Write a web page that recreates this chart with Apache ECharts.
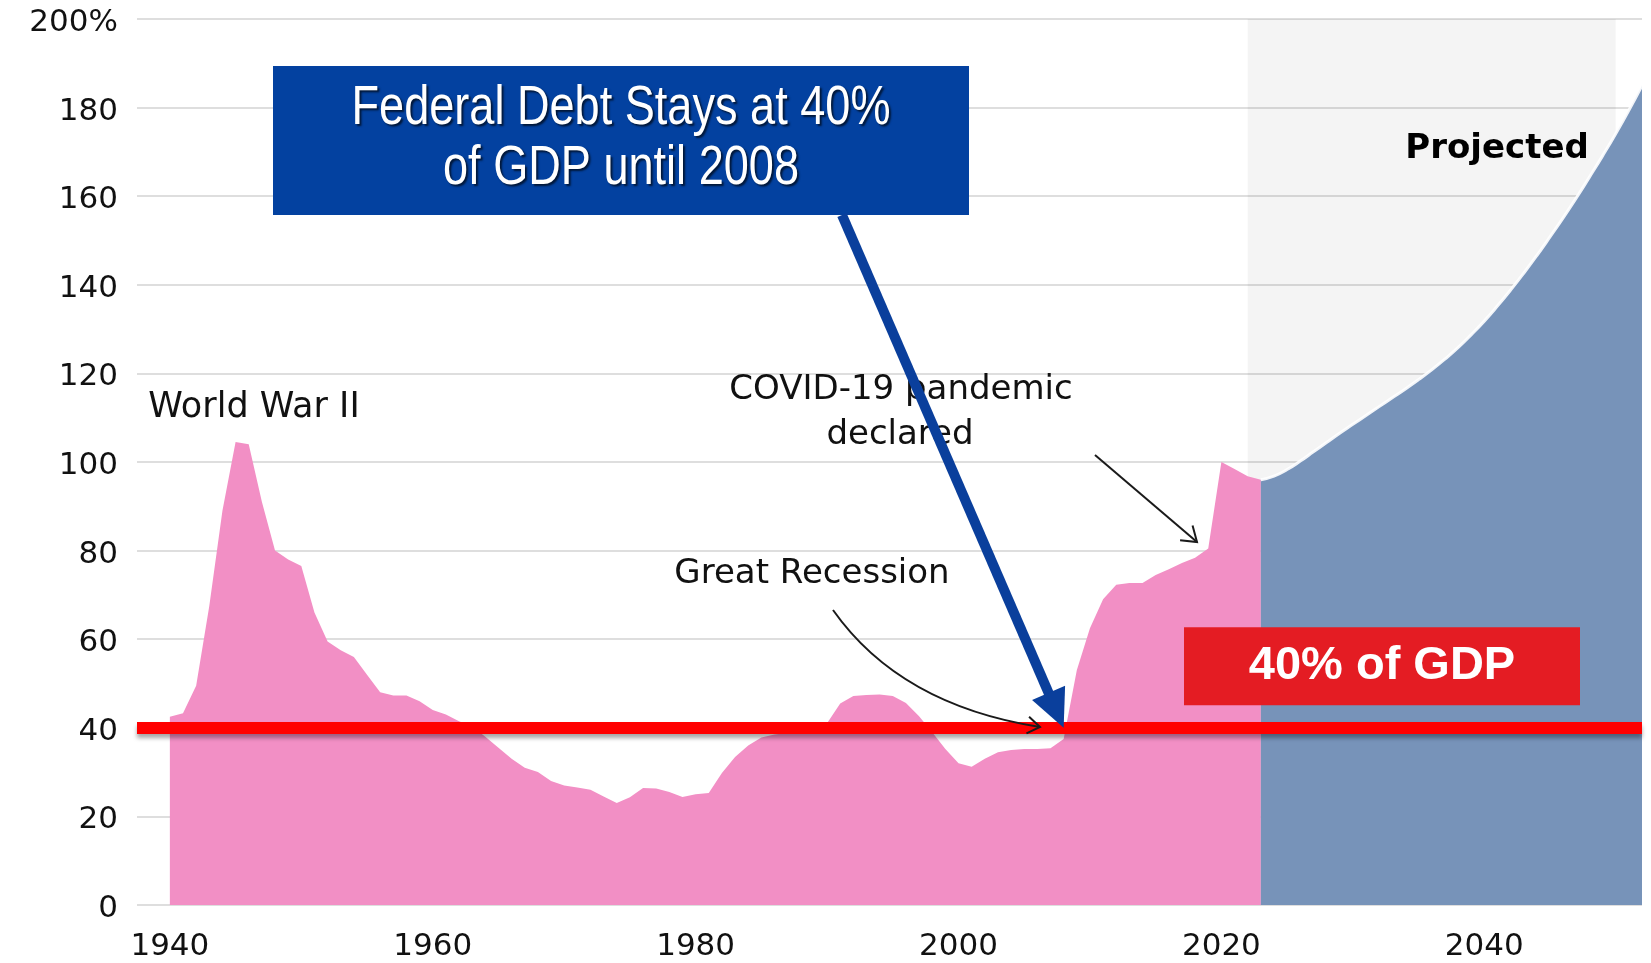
<!DOCTYPE html>
<html>
<head>
<meta charset="utf-8">
<title>Federal Debt Held by the Public</title>
<script src="https://cdn.jsdelivr.net/npm/echarts@6/dist/echarts.min.js"></script>
<style>
  html, body { margin: 0; padding: 0; background: #ffffff; }
  #chart { width: 1651px; height: 963px; }
</style>
</head>
<body>
<div id="chart"></div>
<script>
// Federal debt held by the public, percent of GDP (fiscal years)
const historyYears = [
  1940, 1941, 1942, 1943, 1944, 1945, 1946, 1947, 1948, 1949,
  1950, 1951, 1952, 1953, 1954, 1955, 1956, 1957, 1958, 1959,
  1960, 1961, 1962, 1963, 1964, 1965, 1966, 1967, 1968, 1969,
  1970, 1971, 1972, 1973, 1974, 1975, 1976, 1977, 1978, 1979,
  1980, 1981, 1982, 1983, 1984, 1985, 1986, 1987, 1988, 1989,
  1990, 1991, 1992, 1993, 1994, 1995, 1996, 1997, 1998, 1999,
  2000, 2001, 2002, 2003, 2004, 2005, 2006, 2007, 2008, 2009,
  2010, 2011, 2012, 2013, 2014, 2015, 2016, 2017, 2018, 2019,
  2020, 2021, 2022, 2023
];
const historyValues = [
  42.5, 43.3, 49.5, 67.5, 89, 104.5, 104, 91, 80, 78,
  76.5, 66, 59.5, 57.5, 56, 52, 48, 47.3, 47.3, 46,
  44, 43, 41.5, 40.3, 38, 35.5, 33, 31, 30, 28,
  27, 26.5, 26, 24.5, 23, 24.3, 26.4, 26.3, 25.5, 24.4,
  25, 25.3, 29.8, 33.4, 36, 37.8, 38.5, 38.8, 38.8, 39.4,
  41, 45.5, 47.2, 47.4, 47.5, 47.2, 45.6, 42.6, 39, 35.2,
  32, 31.2, 33, 34.5, 35, 35.2, 35.2, 35.4, 37.5, 53,
  62.5, 69, 72.3, 72.7, 72.7, 74.5, 75.8, 77.2, 78.4, 80.5,
  100, 98.4, 96.8, 96
];

// Projection
const projectionYears = [
  2023, 2024, 2025, 2026, 2027, 2028, 2029, 2030, 2031, 2032,
  2033, 2034, 2035, 2036, 2037, 2038, 2039, 2040, 2041, 2042,
  2043, 2044, 2045, 2046, 2047, 2048, 2049, 2050, 2051, 2052
];
const projectionValues = [
  96, 96.8, 98.3, 100.2, 102.3, 104.4, 106.5, 108.5, 110.5, 112.5,
  114.5, 116.5, 118.6, 120.8, 123.2, 125.8, 128.7, 131.8, 135.2, 138.8,
  142.6, 146.6, 150.8, 155.1, 159.6, 164.3, 169.1, 174.1, 179.4, 185
];

const xTickLabels = [1940, 1960, 1980, 2000, 2020, 2040];
const yTickValues = [0, 20, 40, 60, 80, 100, 120, 140, 160, 180, 200];

// Reference level and shaded projection period
const thresholdValue = 40;
const thresholdText = '40% of GDP';
const projectedBand = [2022, 2050];
const highlightYear = 2008;

const AXIS_FONT = "'DejaVu Sans', 'Noto Sans', sans-serif";
const NOTE_FONT = "'DejaVu Sans', 'Noto Sans', sans-serif";

const chart = echarts.init(document.getElementById('chart'), null, { renderer: 'canvas' });
const pairs = (xs, ys) => xs.map((x, i) => [x, ys[i]]);

chart.setOption({
  animation: false,
  backgroundColor: '#ffffff',
  grid: { left: 137, right: 9, top: 19, bottom: 58 },
  xAxis: {
    type: 'value',
    min: 1937.5,
    max: 2052,
    axisLine: { show: false },
    axisTick: { show: false },
    splitLine: { show: false },
    axisLabel: {
      customValues: xTickLabels,
      formatter: v => String(v),
      fontSize: 31,
      color: '#111111',
      margin: 26,
      fontFamily: AXIS_FONT
    }
  },
  yAxis: {
    type: 'value',
    min: yTickValues[0],
    max: yTickValues[yTickValues.length - 1],
    interval: yTickValues[1] - yTickValues[0],
    axisLine: { show: false },
    axisTick: { show: false },
    splitLine: { lineStyle: { color: '#dedede', width: 2 } },
    axisLabel: {
      fontSize: 31,
      color: '#111111',
      margin: 19,
      verticalAlign: 'top',
      lineHeight: 8,
      fontFamily: AXIS_FONT,
      formatter: v => (v === yTickValues[yTickValues.length - 1] ? v + '%' : String(v))
    }
  },
  series: [
    {
      // light shading behind the projection period
      type: 'line',
      data: [],
      z: 1,
      silent: true,
      markArea: {
        silent: true,
        itemStyle: { color: 'rgba(0,0,0,0.045)' },
        data: [[{ xAxis: projectedBand[0] }, { xAxis: projectedBand[1] }]]
      }
    },
    {
      name: 'Actual',
      type: 'line',
      data: pairs(historyYears, historyValues),
      symbol: 'none',
      z: 2,
      lineStyle: { width: 0 },
      areaStyle: { color: '#f28fc5', opacity: 1 }
    },
    {
      name: 'Projected',
      type: 'line',
      data: pairs(projectionYears, projectionValues),
      symbol: 'none',
      smooth: 0.5,
      z: 3,
      lineStyle: { width: 3, color: 'rgba(255,255,255,0.9)' },
      areaStyle: { color: '#7793b9', opacity: 1 }
    },
    {
      // red reference line
      type: 'line',
      data: [],
      z: 6,
      silent: true,
      markLine: {
        silent: true,
        symbol: 'none',
        label: { show: false },
        lineStyle: {
          color: '#ff0000',
          width: 12,
          type: 'solid',
          shadowColor: 'rgba(0,0,0,0.35)',
          shadowBlur: 4,
          shadowOffsetY: 4
        },
        data: [{ yAxis: thresholdValue }]
      }
    }
  ]
});

// ---------- annotations ----------
const toPx = (yr, v) => chart.convertToPixel({ gridIndex: 0 }, [yr, v]);

function chevron(tip, from, len, ang) {
  const dx = tip[0] - from[0], dy = tip[1] - from[1];
  const L = Math.hypot(dx, dy);
  const ux = dx / L, uy = dy / L;
  const wing = a => [
    tip[0] - len * (ux * Math.cos(a) - uy * Math.sin(a)),
    tip[1] - len * (uy * Math.cos(a) + ux * Math.sin(a))
  ];
  return [wing(ang), tip, wing(-ang)];
}

function blockArrow(tail, tip, shaftW, headLen, headHalf, color) {
  const dx = tip[0] - tail[0], dy = tip[1] - tail[1];
  const L = Math.hypot(dx, dy);
  const ux = dx / L, uy = dy / L;
  const nx = -uy, ny = ux;
  const base = [tip[0] - ux * headLen, tip[1] - uy * headLen];
  return [
    {
      type: 'line', z: 20,
      shape: { x1: tail[0], y1: tail[1], x2: base[0] + ux * 2, y2: base[1] + uy * 2 },
      style: { stroke: color, lineWidth: shaftW }
    },
    {
      type: 'polygon', z: 20,
      shape: { points: [tip, [base[0] + nx * headHalf, base[1] + ny * headHalf], [base[0] - nx * headHalf, base[1] - ny * headHalf]] },
      style: { fill: color }
    }
  ];
}

const lineY = toPx(highlightYear, thresholdValue)[1];
const arrowTip = toPx(highlightYear, thresholdValue);
const titleShadow = { textShadowColor: 'rgba(0,0,0,0.65)', textShadowBlur: 2, textShadowOffsetX: 2, textShadowOffsetY: 2 };
const noteStyle = (text, size) => ({ text: text, fill: '#111', font: size + 'px ' + NOTE_FONT, align: 'center', verticalAlign: 'middle' });

const covidTail = [1095, 455], covidTip = [1197, 542];
const recStart = [833, 610], recCtrl = [900, 705], recEnd = [1040, 727];

const elements = [
  // title panel
  { type: 'rect', z: 10, shape: { x: 273, y: 66, width: 696, height: 149 }, style: { fill: '#0341a0' } },
  {
    type: 'text', z: 11, x: 621, y: 109, scaleX: 0.82,
    style: Object.assign({ text: 'Federal Debt Stays at 40%', fill: '#ffffff', font: "55px 'Liberation Sans', Arial, sans-serif", align: 'center', verticalAlign: 'middle' }, titleShadow)
  },
  {
    type: 'text', z: 11, x: 621, y: 169, scaleX: 0.82,
    style: Object.assign({ text: 'of GDP until 2008', fill: '#ffffff', font: "55px 'Liberation Sans', Arial, sans-serif", align: 'center', verticalAlign: 'middle' }, titleShadow)
  },

  // reference-line label
  { type: 'rect', z: 10, shape: { x: 1184, y: lineY - 61.5 - 39, width: 396, height: 78 }, style: { fill: '#e41c23' } },
  {
    type: 'text', z: 11, x: 1382, y: lineY - 61.5,
    style: { text: thresholdText, fill: '#ffffff', font: "bold 47px 'Liberation Sans', Arial, sans-serif", align: 'center', verticalAlign: 'middle' }
  },

  // event labels
  { type: 'text', z: 12, x: 254, y: 408, style: noteStyle('World War II', 35) },
  { type: 'text', z: 12, x: 901, y: 390, style: noteStyle('COVID-19 pandemic', 34) },
  { type: 'text', z: 12, x: 900, y: 435, style: noteStyle('declared', 34) },
  { type: 'text', z: 12, x: 812, y: 574, style: noteStyle('Great Recession', 34) },
  { type: 'text', z: 12, x: 1497, y: 149, style: { text: 'Projected', fill: '#000', font: "bold 34px 'DejaVu Sans', sans-serif", align: 'center', verticalAlign: 'middle' } },

  // pointer to the pandemic jump
  { type: 'line', z: 12, shape: { x1: covidTail[0], y1: covidTail[1], x2: covidTip[0], y2: covidTip[1] }, style: { stroke: '#1a1a1a', lineWidth: 2 } },
  { type: 'polyline', z: 12, shape: { points: chevron(covidTip, covidTail, 17, 0.6) }, style: { stroke: '#1a1a1a', lineWidth: 2, fill: null } },

  // pointer to the recession
  { type: 'bezierCurve', z: 12, shape: { x1: recStart[0], y1: recStart[1], cpx1: recCtrl[0], cpy1: recCtrl[1], x2: recEnd[0], y2: recEnd[1] }, style: { stroke: '#1a1a1a', lineWidth: 2, fill: null } },
  { type: 'polyline', z: 12, shape: { points: chevron(recEnd, recCtrl, 15, 0.6) }, style: { stroke: '#1a1a1a', lineWidth: 2, fill: null } }
].concat(blockArrow([842, 215], arrowTip, 10, 38, 18, '#0a3f9c'));

chart.setOption({ graphic: { elements: elements } });
</script>
</body>
</html>
